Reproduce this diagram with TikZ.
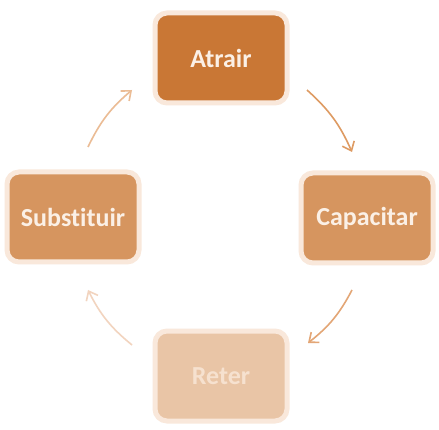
\documentclass[tikz,border=0pt]{standalone}
\usepackage{fontspec}
\setmainfont[RawFeature={-liga;-clig}]{Carlito}
\usetikzlibrary{positioning,arrows.meta}

\definecolor{atrairfill}{HTML}{C97735}
\definecolor{midfill}{HTML}{D6955F}
\definecolor{reterfill}{HTML}{E9C5A6}
\definecolor{glowcol}{HTML}{F9E8DB}
\definecolor{textlight}{HTML}{FBF0E6}
\definecolor{retertext}{HTML}{F6E1CF}
\definecolor{arrowA}{HTML}{DE9B63}
\definecolor{arrowB}{HTML}{E3A676}
\definecolor{arrowC}{HTML}{F2D4BF}
\definecolor{arrowD}{HTML}{EBBC95}

\begin{document}
\begin{tikzpicture}
    [%%%%%%%%%%%%%%%%%%%%%%%%%%%%%%
    x=1pt,y=-1pt,
    box/.style={rectangle,rounded corners=12pt,draw=glowcol,line width=5pt,
        minimum width=132pt,minimum height=90pt,text=textlight,
        font=\fontsize{26}{30}\selectfont\bfseries},
    cycle/.style={line width=1.6pt,-{Straight Barb[length=8pt,width=13pt,line width=1.6pt]}},
    ]%%%%%%%%%%%%%%%%%%%%%%%%%%%%%%

    \useasboundingbox[fill=white] (0,0) rectangle (439,430);

    % boxes
    \node[box,fill=atrairfill] at (221,58) (atrair) {Atrair};
    \node[box,fill=midfill] at (367,218) (capacitar) {Capacitar};
    \node[box,fill=reterfill,text=retertext] at (221,376) (reter) {Reter};
    \node[box,fill=midfill] at (73,217) (substituir) {Substituir};

    % arrow ends
    \coordinate (ac_start) at (307,90);
    \coordinate (ac_end) at (352,152);
    \coordinate (cr_start) at (352,290);
    \coordinate (cr_end) at (308,343);
    \coordinate (rs_start) at (132,345);
    \coordinate (rs_end) at (88,290);
    \coordinate (sa_start) at (88,147);
    \coordinate (sa_end) at (132,90);

    % cycle arrows
    \draw[cycle,arrowA] (ac_start) to[bend left=12] (ac_end);
    \draw[cycle,arrowB] (cr_start) to[bend left=12] (cr_end);
    \draw[cycle,arrowC] (rs_start) to[bend left=12] (rs_end);
    \draw[cycle,arrowD] (sa_start) to[bend left=12] (sa_end);
\end{tikzpicture}
\end{document}
